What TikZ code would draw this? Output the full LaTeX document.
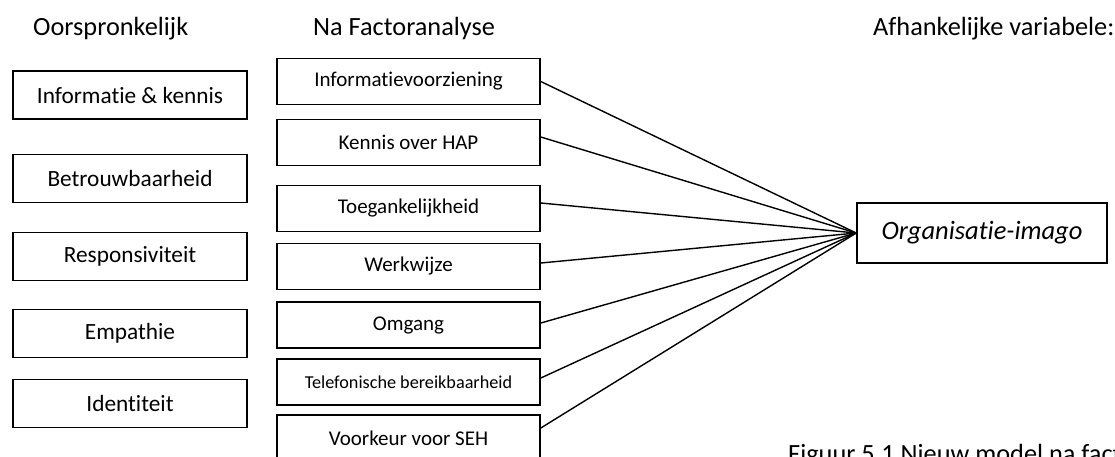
\documentclass[tikz,border=0pt]{standalone}
\usepackage{fontspec}
\setmainfont{Carlito}[Ligatures=CommonOff]
\usepackage{xcolor}
\usepackage{tikz}
\usetikzlibrary{arrows.meta, positioning, calc}

\tikzset{
    oudbox/.style={draw, line width=1.6pt, minimum width=234pt, minimum height=48pt, inner sep=0pt, font=\fontsize{23.3}{27}\selectfont},
    factorbox/.style={draw, line width=1.6pt, minimum width=263pt, minimum height=46pt, inner sep=0pt, font=\fontsize{21}{25}\selectfont},
    kop/.style={anchor=base west, inner sep=0pt, font=\fontsize{26.3}{30}\selectfont},
    verbinding/.style={line width=1.4pt}
}

\begin{document}
\begin{tikzpicture}[x=1pt, y=-1pt]
    \useasboundingbox[fill=white] (0, 0) rectangle (1115, 456);
    \clip (0, 0) rectangle (1115, 456);

    % kopjes
    \node[kop] (kop1) at (33, 35) {Oorspronkelijk};
    \node[kop] (kop2) at (313, 35) {Na Factoranalyse};
    \node[kop] (kop3) at (873, 35) {Afhankelijke variabele:};

    % oorspronkelijke dimensies
    \node[oudbox] (o1) at (130, 95) {Informatie \& kennis};
    \node[oudbox] (o2) at (130, 178.5) {Betrouwbaarheid};
    \node[oudbox] (o3) at (130, 256.5) {Responsiviteit};
    \node[oudbox] (o4) at (130, 333.5) {Empathie};
    \node[oudbox] (o5) at (130, 403.5) {Identiteit};

    % factoren na factoranalyse
    \node[factorbox] (m1) at (408.5, 81.5) {Informatievoorziening};
    \node[factorbox] (m2) at (408.5, 142.5) {Kennis over HAP};
    \node[factorbox] (m3) at (408.5, 208.5) {Toegankelijkheid};
    \node[factorbox] (m4) at (408.5, 266.5) {Werkwijze};
    \node[factorbox] (m5) at (408.5, 325) {Omgang};
    \node[factorbox, font=\fontsize{18.2}{22}\selectfont] (m6) at (408.5, 382) {Telefonische bereikbaarheid};
    \node[factorbox, minimum height=47pt] (m7) at (408.5, 438.5) {Voorkeur voor SEH};

    % afhankelijke variabele
    \node[draw, line width=1.6pt, minimum width=250pt, minimum height=60pt, inner sep=0pt,
          font=\fontsize{26.5}{30}\selectfont\itshape] (org) at (982, 233) {Organisatie-imago};

    % verbindingen
    \draw[verbinding] (m1.east) -- (org.west);
    \draw[verbinding] ([yshift=5.5pt]m2.east) -- (org.west);
    \draw[verbinding] ([yshift=5.5pt]m3.east) -- (org.west);
    \draw[verbinding] ([yshift=3.5pt]m4.east) -- (org.west);
    \draw[verbinding] ([yshift=2pt]m5.east) -- (org.west);
    \draw[verbinding] ([yshift=4pt]m6.east) -- (org.west);
    \draw[verbinding] ([yshift=10.5pt]m7.east) -- (org.west);

    % onderschrift
    \node[anchor=base west, inner sep=0pt, font=\fontsize{26.3}{30}\selectfont] (titel) at (788, 462) {Figuur 5.1 Nieuw model na factoranalyse};
\end{tikzpicture}
\end{document}
